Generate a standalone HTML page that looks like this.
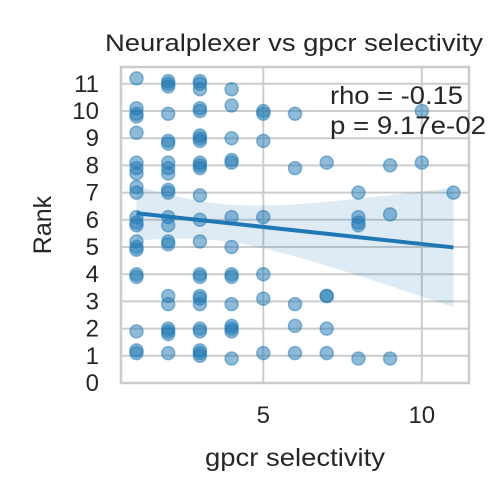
<!DOCTYPE html>
<html><head><meta charset="utf-8"><style>
body{margin:0;background:#fff}
svg{font-family:"Liberation Sans",sans-serif;display:block}
</style></head><body>
<svg id="chart" width="500" height="500" viewBox="0 0 500 500">
<rect width="500" height="500" fill="#fff"/>
<g id="grid"></g><g id="band"></g><g id="pts"></g><g id="reg"></g><g id="ticks"></g>
<rect x="121" y="67" width="348" height="316" fill="none" stroke="#cccccc" stroke-width="2.5"/>
<text x="294" y="51" text-anchor="middle" font-size="24" textLength="378" lengthAdjust="spacingAndGlyphs" fill="#262626">Neuralplexer vs gpcr selectivity</text>
<text x="295" y="466" text-anchor="middle" font-size="25" textLength="180" lengthAdjust="spacingAndGlyphs" fill="#262626">gpcr selectivity</text>
<text transform="translate(51,225) rotate(-90)" text-anchor="middle" font-size="25" fill="#262626">Rank</text>
<text x="330" y="104" font-size="25" textLength="133" lengthAdjust="spacingAndGlyphs" fill="#262626">rho = -0.15</text>
<text x="330" y="134" font-size="25" textLength="156" lengthAdjust="spacingAndGlyphs" fill="#262626">p = 9.17e-02</text>
</svg>
<script>
const xTicks=[5,10];
const yTicks=[0,1,2,3,4,5,6,7,8,9,10,11];
const xs=[1,1,1,1,1,1,1,1,1,1,1,1,1,1,1,1,1,1,1,1,1,
2,2,2,2,2,2,2,2,2,2,2,2,2,2,2,2,2,2,2,2,2,
3,3,3,3,3,3,3,3,3,3,3,3,3,3,3,3,3,3,3,3,3,3,3,3,
4,4,4,4,4,4,4,4,4,4,4,4,4,4,
5,5,5,5,5,5,5,
6,6,6,6,6,
7,7,7,7,7,
8,8,8,8,8,
9,9,9,
10,10,
11];
const ys=[11.2,10.1,9.9,9.8,9.2,8.1,7.9,7.7,7.2,7.0,6.1,5.9,5.8,5.2,5.0,4.9,4.0,3.9,1.9,1.2,1.1,
11.1,11.0,10.9,9.9,8.9,8.8,8.1,7.9,7.7,7.1,7.0,6.1,5.8,5.2,5.1,3.2,2.9,2.0,1.9,1.8,1.1,
11.1,11.0,10.8,10.1,10.0,9.1,9.0,8.9,8.1,8.0,7.9,6.9,6.0,5.2,4.0,3.9,3.2,3.1,2.9,2.0,1.9,1.2,1.1,1.0,
10.8,10.2,9.0,8.2,8.1,6.1,5.0,4.0,3.9,2.9,2.1,2.0,1.9,0.9,
10.0,9.9,8.9,6.1,4.0,3.1,1.1,
9.9,7.9,2.9,2.1,1.1,
8.1,3.2,3.2,2.0,1.1,
7.0,6.1,5.9,5.8,0.9,
8.0,6.2,0.9,
10.0,8.1,
7.0];
const NS='http://www.w3.org/2000/svg';
const sx=v=>136.5+(v-1)*31.7;
const sy=v=>383-v*27.2;
function mk(t,a,p){const e=document.createElementNS(NS,t);for(const k in a)e.setAttribute(k,a[k]);p.appendChild(e);return e;}
const grid=document.getElementById('grid'),tk=document.getElementById('ticks');
yTicks.forEach(v=>{
 const l=mk('line',{x1:121,x2:469,y1:sy(v),y2:sy(v),stroke:'#cccccc','stroke-width':2},grid);
 
 
 const t=mk('text',{x:99,y:sy(v)+8,'text-anchor':'end','font-size':24,fill:'#262626'},tk);
 t.textContent=v;
 
 
});
xTicks.forEach(v=>{
 const l=mk('line',{x1:sx(v),x2:sx(v),y1:67,y2:383,stroke:'#cccccc','stroke-width':2},grid);
 
 
 const t=mk('text',{x:sx(v),y:423,'text-anchor':'middle','font-size':24,fill:'#262626'},tk);
 t.textContent=v;
 
 
});
const pts=document.getElementById('pts');
xs.forEach((x,i)=>{
 const c=mk('circle',{cx:sx(x),cy:sy(ys[i]),r:6.5,fill:'#1f77b4','fill-opacity':0.5,stroke:'#1f77b4','stroke-opacity':0.5,'stroke-width':1.5},pts);
 
 
});
const n=xs.length,mx=xs.reduce((a,b)=>a+b)/n,my=ys.reduce((a,b)=>a+b)/n;
let sxx=0,sxy=0;xs.forEach((x,i)=>{sxx+=(x-mx)**2;sxy+=(x-mx)*(ys[i]-my);});
const b=sxy/sxx,a=my-b*mx;
let sse=0;xs.forEach((x,i)=>{sse+=(ys[i]-a-b*x)**2;});
const s=Math.sqrt(sse/(n-2)),tcrit=2.2;
const xmin=Math.min(...xs),xmax=Math.max(...xs);
let up=[],lo=[];
for(let k=0;k<=40;k++){const x=xmin+(xmax-xmin)*k/40;const yh=a+b*x;const se=s*Math.sqrt(1/n+(x-mx)**2/sxx);
 up.push(sx(x)+','+sy(yh+tcrit*se));lo.unshift(sx(x)+','+sy(yh-tcrit*se));}
const band=mk('polygon',{points:up.concat(lo).join(' '),fill:'#1f77b4','fill-opacity':0.15},document.getElementById('band'));


const rl=mk('line',{x1:sx(xmin),y1:sy(a+b*xmin),x2:sx(xmax),y2:sy(a+b*xmax),stroke:'#1f77b4','stroke-width':4},document.getElementById('reg'));


</script>
</body></html>
